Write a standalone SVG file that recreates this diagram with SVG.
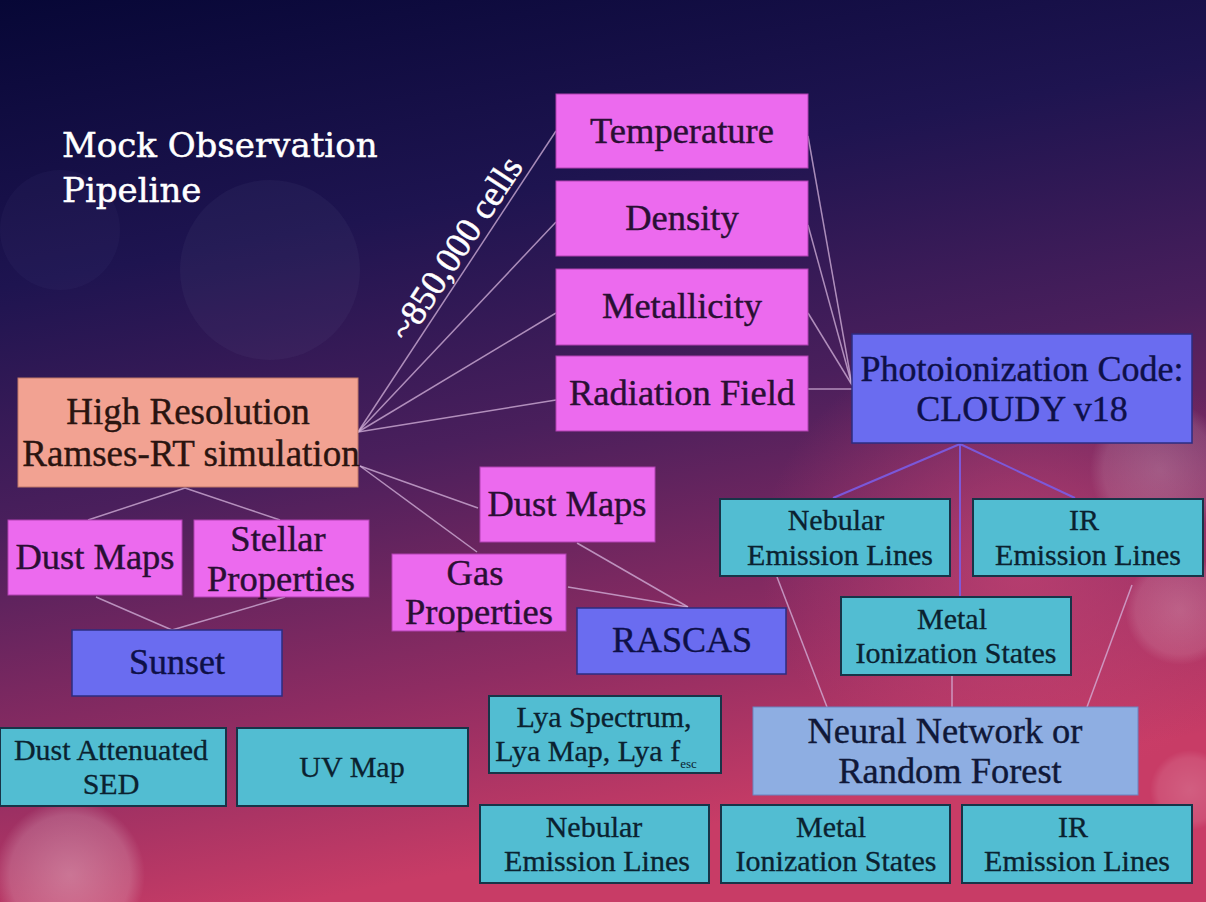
<svg xmlns="http://www.w3.org/2000/svg" width="1206" height="902" viewBox="0 0 1206 902">
<defs>
<linearGradient id="bg" x1="0" y1="0" x2="0.25" y2="1">
<stop offset="0" stop-color="#070736"/>
<stop offset="0.3" stop-color="#1e1450"/>
<stop offset="0.55" stop-color="#4a1f5c"/>
<stop offset="0.8" stop-color="#8e2c62"/>
<stop offset="1" stop-color="#c83c66"/>
</linearGradient>
<radialGradient id="glow" cx="0.5" cy="0.5" r="0.5">
<stop offset="0" stop-color="#ffffff" stop-opacity="0.35"/>
<stop offset="0.8" stop-color="#ffffff" stop-opacity="0.2"/>
<stop offset="1" stop-color="#ffffff" stop-opacity="0"/>
</radialGradient>
<radialGradient id="pinkglow" cx="0.5" cy="0.5" r="0.5">
<stop offset="0" stop-color="#d24a78" stop-opacity="0.6"/>
<stop offset="1" stop-color="#d24a78" stop-opacity="0"/>
</radialGradient>
</defs>
<style>
.mag{fill:#ec6aee;stroke:#b040b0;stroke-width:1}
.blu{fill:#6a6cf0;stroke:#2c2c80;stroke-width:1.5}
.cya{fill:#52bdd2;stroke:#173448;stroke-width:2}
.sal{fill:#f2a292;stroke:#c07868;stroke-width:1}
.nn{fill:#8eaee2;stroke:#6a84c0;stroke-width:1}
text{font-family:"Liberation Serif","Times New Roman",serif;text-anchor:middle}
.tm{font-size:36.5px;fill:#2a0f34;stroke:#2a0f34;stroke-width:0.4}
.tb{font-size:36px;fill:#0e1048;stroke:#0e1048;stroke-width:0.4}
.tc{font-size:30px;fill:#0b2230;stroke:#0b2230;stroke-width:0.3}
.ts{font-size:37px;fill:#2a1410;stroke:#2a1410;stroke-width:0.4}
.tn{font-size:36.4px;fill:#101838;stroke:#101838;stroke-width:0.4}
.title{font-family:"DejaVu Serif",serif;font-size:34px;fill:#ffffff;stroke:#ffffff;stroke-width:0.5;text-anchor:start}
.conn line{stroke:#d6b4dc;stroke-opacity:0.75;stroke-width:1.5;fill:none}
.conn .bl{stroke:#7a5ce6;stroke-opacity:0.9;stroke-width:2}
</style>
<rect width="1206" height="902" fill="url(#bg)"/>
<g id="bokeh">
<ellipse cx="1020" cy="560" rx="260" ry="230" fill="url(#pinkglow)"/>
<circle cx="1160" cy="470" r="70" fill="url(#glow)" opacity="0.6"/>
<circle cx="1180" cy="610" r="55" fill="url(#glow)" opacity="0.6"/>
<circle cx="1190" cy="790" r="40" fill="url(#glow)" opacity="0.5"/>
<circle cx="70" cy="875" r="75" fill="url(#glow)" opacity="0.9"/>
<circle cx="270" cy="270" r="90" fill="#6a6aa0" opacity="0.09"/>
<circle cx="60" cy="230" r="60" fill="#6a6aa0" opacity="0.07"/>
</g>
<g id="title">
<text class="title" x="62" y="157">Mock Observation</text>
<text class="title" x="62" y="202">Pipeline</text>
</g>
<g class="conn" id="connectors">
<line x1="358" y1="432" x2="556" y2="131"/>
<line x1="358" y1="432" x2="556" y2="222"/>
<line x1="358" y1="432" x2="556" y2="313"/>
<line x1="358" y1="432" x2="556" y2="400"/>
<line x1="808" y1="136" x2="852" y2="385"/>
<line x1="808" y1="225" x2="852" y2="385"/>
<line x1="808" y1="313" x2="852" y2="385"/>
<line x1="808" y1="389" x2="852" y2="389"/>
<line x1="360" y1="466" x2="478" y2="508"/>
<line x1="360" y1="466" x2="477" y2="552"/>
<line x1="577" y1="543" x2="688" y2="607"/>
<line x1="568" y1="587" x2="688" y2="607"/>
<line x1="185" y1="488" x2="88" y2="520"/>
<line x1="185" y1="488" x2="280" y2="520"/>
<line x1="96" y1="597" x2="172" y2="630"/>
<line x1="285" y1="597" x2="172" y2="630"/>
<line class="bl" x1="960" y1="444" x2="833" y2="498"/>
<line class="bl" x1="960" y1="444" x2="1075" y2="498"/>
<line class="bl" x1="960" y1="444" x2="960" y2="596"/>
<line x1="777" y1="577" x2="827" y2="707"/>
<line x1="1132" y1="585" x2="1087" y2="707"/>
<line x1="952" y1="676" x2="952" y2="707"/>
</g>
<text x="0" y="0" transform="translate(466,255) rotate(-56.7)" style="font-size:36px;fill:#ffffff;stroke:#ffffff;stroke-width:0.5">~850,000 cells</text>
<g id="temperature"><rect class="mag" x="556" y="94" width="252" height="74"/><text class="tm" x="682" y="143">Temperature</text></g>
<g id="density"><rect class="mag" x="556" y="181" width="252" height="75"/><text class="tm" x="682" y="230">Density</text></g>
<g id="metallicity"><rect class="mag" x="556" y="269" width="252" height="76"/><text class="tm" x="682" y="318">Metallicity</text></g>
<g id="radiation"><rect class="mag" x="556" y="356" width="252" height="75"/><text class="tm" x="682" y="405">Radiation Field</text></g>
<g id="cloudy"><rect class="blu" x="852" y="334" width="340" height="109"/><text class="tb" x="1022" y="381">Photoionization Code:</text><text class="tb" x="1022" y="421">CLOUDY v18</text></g>
<g id="ramses"><rect class="sal" x="18" y="378" width="340" height="109"/><text class="ts" x="188" y="424">High Resolution</text><text class="ts" x="191" y="466">Ramses-RT simulation</text></g>
<g id="dustmaps1"><rect class="mag" x="8" y="520" width="174" height="75"/><text class="tm" x="95" y="569">Dust Maps</text></g>
<g id="stellar"><rect class="mag" x="194" y="520" width="175" height="77"/><text class="tm" x="278" y="551">Stellar</text><text class="tm" x="281" y="591">Properties</text></g>
<g id="sunset"><rect class="blu" x="72" y="630" width="210" height="66"/><text class="tb" x="177" y="674">Sunset</text></g>
<g id="dustmaps2"><rect class="mag" x="480" y="467" width="175" height="75"/><text class="tm" x="567" y="516">Dust Maps</text></g>
<g id="gas"><rect class="mag" x="392" y="554" width="174" height="77"/><text class="tm" x="475" y="585">Gas</text><text class="tm" x="479" y="624">Properties</text></g>
<g id="rascas"><rect class="blu" x="577" y="608" width="209" height="66"/><text class="tb" x="682" y="652">RASCAS</text></g>
<g id="nebular1"><rect class="cya" x="720" y="499" width="230" height="77"/><text class="tc" x="836" y="530">Nebular</text><text class="tc" x="840" y="565">Emission Lines</text></g>
<g id="ir1"><rect class="cya" x="973" y="499" width="230" height="77"/><text class="tc" x="1084" y="530">IR</text><text class="tc" x="1088" y="565">Emission Lines</text></g>
<g id="metal1"><rect class="cya" x="841" y="597" width="230" height="78"/><text class="tc" x="952" y="629">Metal</text><text class="tc" x="956" y="663">Ionization States</text></g>
<g id="nn"><rect class="nn" x="753" y="707" width="385" height="88"/><text class="tn" x="945" y="743">Neural Network or</text><text class="tn" x="950" y="783">Random Forest</text></g>
<g id="lya"><rect class="cya" x="489" y="696" width="232" height="77"/><text class="tc" x="604" y="727">Lya Spectrum,</text><text class="tc" x="596" y="761">Lya Map, Lya f<tspan style="font-size:13px;stroke-width:0" dy="7">esc</tspan></text></g>
<g id="sed"><rect class="cya" x="0" y="728" width="226" height="78"/><text class="tc" x="111" y="760">Dust Attenuated</text><text class="tc" x="111" y="794">SED</text></g>
<g id="uvmap"><rect class="cya" x="237" y="728" width="231" height="78"/><text class="tc" x="352" y="777">UV Map</text></g>
<g id="nebular2"><rect class="cya" x="480" y="805" width="229" height="78"/><text class="tc" x="594" y="837">Nebular</text><text class="tc" x="597" y="871">Emission Lines</text></g>
<g id="metal2"><rect class="cya" x="721" y="805" width="229" height="78"/><text class="tc" x="831" y="837">Metal</text><text class="tc" x="836" y="871">Ionization States</text></g>
<g id="ir2"><rect class="cya" x="962" y="805" width="230" height="78"/><text class="tc" x="1073" y="837">IR</text><text class="tc" x="1077" y="871">Emission Lines</text></g>
</svg>
